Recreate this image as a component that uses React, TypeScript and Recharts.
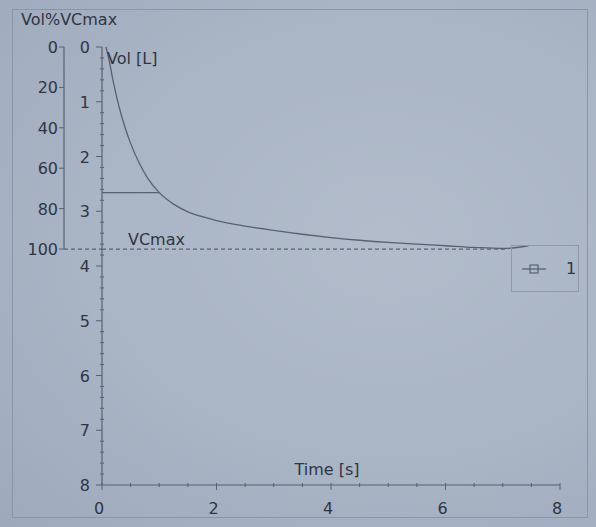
import { ComposedChart, Line, XAxis, YAxis, ReferenceLine, Legend } from 'recharts';

// Volume–time curve of a forced expiration
const times = [0.07, 0.12, 0.2, 0.3, 0.4, 0.5, 0.65, 0.8, 1.0, 1.25, 1.5, 1.75, 2.0, 2.5, 3.0, 3.5, 4.0, 4.5, 5.0, 5.5, 6.0, 6.5, 7.0, 7.45];
const volumes = [0, 0.22, 0.65, 1.1, 1.46, 1.76, 2.12, 2.4, 2.66, 2.87, 3.01, 3.1, 3.17, 3.27, 3.35, 3.42, 3.48, 3.53, 3.57, 3.6, 3.63, 3.66, 3.68, 3.63];

const VC_MAX = 3.69; // litres = 100 %
const VC_LINE_END = 7.1; // seconds
const FEV1 = 2.66; // litres at 1 s
const FEV1_TIME = 1;

const timeTicks = [0, 0.5, 1, 1.5, 2, 2.5, 3, 3.5, 4, 4.5, 5, 5.5, 6, 6.5, 7, 7.5, 8];
const timeLabels = [0, 2, 4, 6, 8];
const volMajorTicks = [0, 1, 2, 3, 4, 5, 6, 7, 8];
const pctTicks = [0, 20, 40, 60, 80, 100];
const seriesName = '1';

const chartData = times.map((t, i) => ({ t, vol: volumes[i] }));

// minor ticks: 5 per litre
const volTicks: number[] = [];
volMajorTicks.forEach((v, i) => {
  volTicks.push(v);
  if (i < volMajorTicks.length - 1) for (let k = 1; k < 5; k++) volTicks.push(+(v + k * 0.2).toFixed(1));
});

const W = 596;
const H = 527;
const PLOT_TOP = 47;
const PLOT_BOTTOM = 485;
const VOL_AXIS_W = 38;
const PCT_AXIS_W = 50;
const PCT_MAX = (100 * 8) / VC_MAX;
const PX_PER_PCT = (PLOT_BOTTOM - PLOT_TOP) / PCT_MAX;

// axis ids: the inner (litre) axis must sort first
const VOL_ID = 'a_vol';
const PCT_ID = 'b_pct';

const INK = '#2f3644';
const LINE = '#586173';
const FONT = '"DejaVu Sans", Verdana, sans-serif';

const VolTick = (props: any) => {
  const { x, y, payload } = props;
  const v = payload.value;
  const major = Math.abs(v - Math.round(v)) < 1e-6;
  if (!major) return <line x1={x - 2} x2={x + 2} y1={y} y2={y} stroke={LINE} strokeWidth={1} />;
  return (
    <g>
      <line x1={x - 6} x2={x} y1={y} y2={y} stroke={LINE} strokeWidth={1} />
      <text x={x - 12} y={y + 6} textAnchor="end" fill={INK} fontSize={16} fontFamily={FONT}>
        {v}
      </text>
    </g>
  );
};

const PctTick = (props: any) => {
  const { x, y, payload } = props;
  const v = payload.value;
  return (
    <g>
      <line x1={x - 5} x2={x} y1={y} y2={y} stroke={LINE} strokeWidth={1} />
      {v > 0 && <line x1={x} x2={x} y1={y} y2={y - 20 * PX_PER_PCT} stroke={LINE} strokeWidth={1.2} />}
      {v === 100 && (
        <line x1={x} x2={x + VOL_AXIS_W} y1={y} y2={y} stroke={LINE} strokeWidth={1.2} strokeDasharray="4 3" />
      )}
      <text x={x - 6} y={y + 6} textAnchor="end" fill={INK} fontSize={16} fontFamily={FONT}>
        {v}
      </text>
    </g>
  );
};

const TimeTick = (props: any) => {
  const { x, y, payload } = props;
  const v = payload.value;
  const labelled = timeLabels.includes(v);
  return (
    <g>
      <line x1={x} x2={x} y1={y - 2} y2={y + (labelled ? 5 : 2)} stroke={LINE} strokeWidth={1} />
      {labelled && (
        <text x={x - 3} y={y + 29} textAnchor="middle" fill={INK} fontSize={16} fontFamily={FONT}>
          {v}
        </text>
      )}
    </g>
  );
};

const LegendBox = (props: any) => {
  const item = props.payload && props.payload[0];
  return (
    <div
      style={{
        width: 68,
        height: 47,
        border: '1px solid #8e98a9',
        boxSizing: 'border-box',
        display: 'flex',
        alignItems: 'center',
        fontFamily: FONT,
        fontSize: 16,
        color: INK,
      }}
    >
      <svg width={40} height={12} style={{ marginLeft: 10 }}>
        <line x1={0} x2={24} y1={6} y2={6} stroke={LINE} strokeWidth={1.3} />
        <rect x={8} y={2} width={8} height={8} fill="none" stroke={LINE} strokeWidth={1.2} />
      </svg>
      <span style={{ marginLeft: 4 }}>{item ? item.value : seriesName}</span>
    </div>
  );
};

export default function App() {
  return (
    <div
      style={{
        position: 'absolute',
        left: 0,
        top: 0,
        width: W,
        height: H,
        background: 'radial-gradient(ellipse at 65% 45%, #b2bccb 0%, #a9b4c5 55%, #9ea9bc 100%)',
      }}
    >
      <div
        style={{
          position: 'absolute',
          left: 12,
          top: 9,
          width: 574,
          height: 507,
          border: '1px solid #8a95a7',
        }}
      />
      <ComposedChart
        width={W}
        height={H}
        data={chartData}
        margin={{ top: PLOT_TOP, right: 36, bottom: 12, left: 102 - VOL_AXIS_W - PCT_AXIS_W }}
        style={{ position: 'absolute', left: 0, top: 0 }}
      >
        <XAxis
          dataKey="t"
          type="number"
          domain={[0, 8]}
          ticks={timeTicks}
          interval={0}
          height={30}
          tickSize={0}
          tickMargin={0}
          tick={<TimeTick />}
          axisLine={{ stroke: LINE, strokeWidth: 1.2 }}
          label={(p: any) => (
            <text
              x={p.viewBox.x + p.viewBox.width / 2 - 4}
              y={p.viewBox.y - 10}
              textAnchor="middle"
              fill={INK}
              fontSize={16}
              fontFamily={FONT}
            >
              Time [s]
            </text>
          )}
        />
        <YAxis
          yAxisId={VOL_ID}
          type="number"
          domain={[0, 8]}
          reversed
          ticks={volTicks}
          interval={0}
          width={VOL_AXIS_W}
          tickSize={0}
          tickMargin={0}
          tick={<VolTick />}
          axisLine={{ stroke: LINE, strokeWidth: 1.2 }}
          label={(p: any) => (
            <text x={p.viewBox.x + p.viewBox.width + 5} y={p.viewBox.y + 17} fill={INK} fontSize={16} fontFamily={FONT}>
              Vol [L]
            </text>
          )}
        />
        <YAxis
          yAxisId={PCT_ID}
          type="number"
          domain={[0, PCT_MAX]}
          reversed
          allowDataOverflow
          ticks={pctTicks}
          interval={0}
          width={PCT_AXIS_W}
          tickSize={0}
          tickMargin={0}
          tick={<PctTick />}
          axisLine={false}
          label={(p: any) => (
            <text x={p.viewBox.x + 7} y={p.viewBox.y - 22} fill={INK} fontSize={16} fontFamily={FONT}>
              Vol%VCmax
            </text>
          )}
        />
        <ReferenceLine
          yAxisId={VOL_ID}
          segment={[
            { x: 0, y: VC_MAX },
            { x: VC_LINE_END, y: VC_MAX },
          ]}
          stroke={LINE}
          strokeWidth={1.2}
          strokeDasharray="4 3"
          label={(p: any) => (
            <text x={p.viewBox.x + 26} y={p.viewBox.y - 4} fill={INK} fontSize={16} fontFamily={FONT}>
              VCmax
            </text>
          )}
        />
        <ReferenceLine
          yAxisId={VOL_ID}
          segment={[
            { x: 0, y: FEV1 },
            { x: FEV1_TIME, y: FEV1 },
          ]}
          stroke={LINE}
          strokeWidth={1.3}
        />
        <Line
          yAxisId={VOL_ID}
          dataKey="vol"
          name={seriesName}
          type="monotone"
          stroke={LINE}
          strokeWidth={1.3}
          dot={false}
          isAnimationActive={false}
        />
        <Legend
          layout="horizontal"
          verticalAlign="middle"
          align="center"
          content={<LegendBox />}
          wrapperStyle={{ left: 511, top: 245, width: 68, height: 47 }}
        />
      </ComposedChart>
    </div>
  );
}
